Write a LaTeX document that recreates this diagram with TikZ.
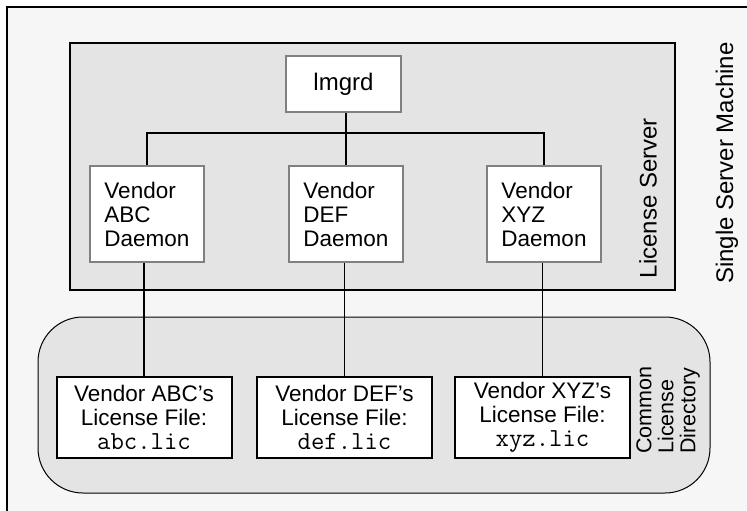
\documentclass[tikz,border=0pt]{standalone}
\usepackage{fontspec}
\setmainfont{Liberation Sans}
\definecolor{machinebg}{gray}{0.965}
\definecolor{serverbg}{gray}{0.895}
\newcommand{\licname}[1]{{\fontsize{26}{24}\selectfont\ttfamily #1}}
\begin{document}
\begin{tikzpicture}[x=1pt,y=-1pt,
    wire/.style={line width=1.8pt},
    daemon/.style={draw=gray,line width=1.5pt,fill=white,inner sep=0pt,
      minimum width=114pt,minimum height=96pt,align=left,
      font=\fontsize{22.5}{24}\selectfont},
    licfile/.style={draw=black,line width=2pt,fill=white,inner sep=0pt,
      minimum width=175pt,minimum height=81pt,align=center,
      font=\fontsize{22.5}{24}\selectfont},
    sidelabel/.style={rotate=90,inner sep=0pt,font=\fontsize{24}{26}\selectfont}]
                    \useasboundingbox (0,0) rectangle (747,511);
                    % machine, server and directory areas
                    \filldraw [fill=machinebg,line width=2pt] (7,7) rectangle (770,540);
                    \filldraw [fill=serverbg,line width=2pt] (70,43) rectangle (675,290);
                    \filldraw [fill=serverbg,line width=1pt,rounded corners=45pt] (38,317) rectangle (710,493);
                    % daemons
                    \node [daemon,minimum height=56pt,minimum width=115pt,align=center,font=\fontsize{24}{26}\selectfont] (lmgrd) at (343.5,84) {lmgrd};
                    \node [daemon] (abcd) at (147,214) {Vendor\\ABC\\Daemon};
                    \node [daemon] (defd) at (346,214) {Vendor\\DEF\\Daemon};
                    \node [daemon] (xyzd) at (544,214) {Vendor\\XYZ\\Daemon};
                    % license files
                    \node [licfile] (abcf) at (144,417.5) {Vendor ABC's\\License File:\\\licname{abc.lic}};
                    \node [licfile] (deff) at (344.5,417) {Vendor DEF's\\License File:\\\licname{def.lic}};
                    \node [licfile] (xyzf) at (542.5,417.5) {Vendor XYZ's\\License File:\\\licname{xyz.lic}};
                    % connectors
                    \draw [wire] (lmgrd.south -| defd.north) -- (defd.north);
                    \draw [wire] (abcd.north) -- ++(0,-32) -| (xyzd.north);
                    \draw [wire] (abcf.north) -- (abcf.north |- abcd.south);
                    \draw [wire] (deff.north) -- (deff.north |- defd.south);
                    \draw [wire] (xyzf.north) -- (xyzf.north |- xyzd.south);
                    % labels
                    \node [sidelabel] (srvlabel) at (648,198) {License Server};
                    \node [sidelabel] (maclabel) at (727,163) {Single Server Machine};
                    \node [sidelabel,align=left,font=\fontsize{21.5}{22}\selectfont] (dirlabel) at (668,410) {Common\\License\\Directory};
\end{tikzpicture}
\end{document}
